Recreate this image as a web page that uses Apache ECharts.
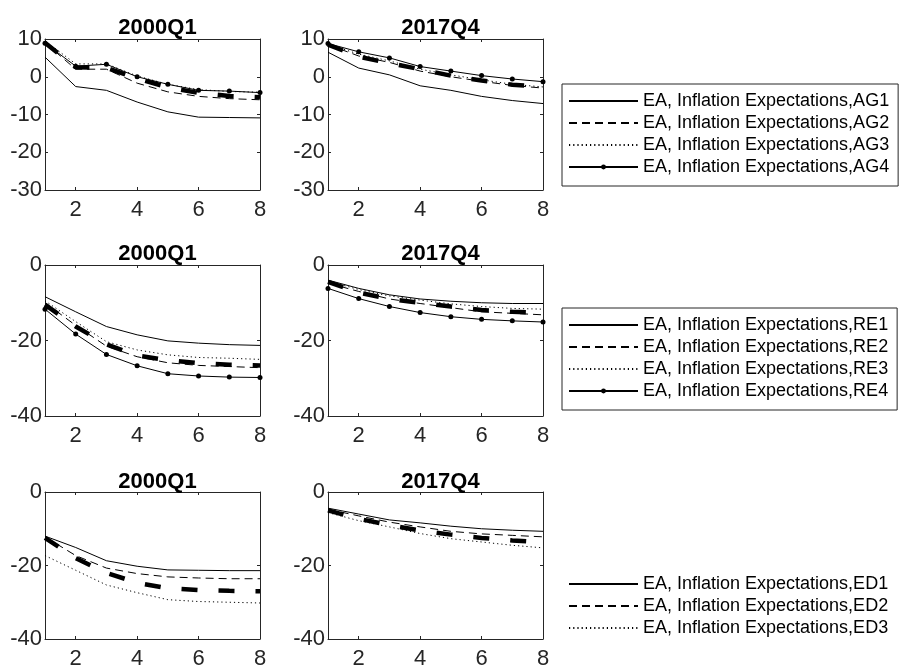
<!DOCTYPE html>
<html>
<head>
<meta charset="utf-8">
<script src="https://cdn.jsdelivr.net/npm/echarts@6/dist/echarts.min.js"></script>
<style>
  html, body { margin: 0; padding: 0; background: #fff; }
  #chart { width: 901px; height: 670px; }
</style>
</head>
<body>
<div id="chart"></div>
<script>
"use strict";
// horizons on the x axis and the labelled ticks
var horizons = [1, 2, 3, 4, 5, 6, 7, 8];
var xTicks = [2, 4, 6, 8];
var titles = ['2000Q1', '2017Q4'];

// AG, 2000Q1
var ag1_2000 = [5.2, -2.6, -3.6, -6.7, -9.3, -10.7, -10.8, -10.9];
var ag2_2000 = [9.0, 2.0, 2.0, -1.7, -4.0, -5.2, -5.8, -6.1];
var ag3_2000 = [9.5, 3.4, 3.4, 0.2, -2.0, -3.4, -3.9, -4.1];
var ag4_2000 = [8.9, 2.8, 3.3, 0.0, -2.0, -3.6, -3.8, -4.2];
var agThick_2000 = [9.0, 2.5, 2.4, -0.5, -2.8, -4.3, -5.1, -5.4];
// AG, 2017Q4
var ag1_2017 = [6.5, 2.3, 0.5, -2.4, -3.6, -5.2, -6.3, -7.1];
var ag2_2017 = [8.5, 5.5, 3.8, 1.5, 0.0, -1.2, -2.3, -3.0];
var ag3_2017 = [8.6, 6.0, 4.2, 2.0, 0.5, -0.8, -2.0, -2.7];
var ag4_2017 = [8.8, 6.6, 5.0, 2.7, 1.5, 0.3, -0.6, -1.3];
var agThick_2017 = [8.5, 5.3, 3.6, 2.0, 0.3, -1.0, -2.1, -2.6];

// RE, 2000Q1
var re1_2000 = [-8.4, -12.4, -16.3, -18.5, -20.1, -20.7, -21.1, -21.3];
var re2_2000 = [-10.0, -16.0, -21.5, -24.3, -25.9, -26.6, -26.9, -27.2];
var re3_2000 = [-9.5, -15.0, -20.3, -22.5, -23.8, -24.5, -24.7, -25.0];
var re4_2000 = [-11.7, -18.3, -23.7, -26.7, -28.8, -29.4, -29.7, -29.8];
var reThick_2000 = [-10.5, -16.3, -21.0, -24.0, -25.2, -26.0, -26.4, -26.6];
// RE, 2017Q4
var re1_2017 = [-4.0, -6.2, -7.9, -9.0, -9.6, -10.0, -10.2, -10.2];
var re2_2017 = [-4.8, -7.0, -9.0, -10.2, -11.3, -12.4, -12.8, -13.2];
var re3_2017 = [-4.3, -6.5, -8.2, -9.3, -10.3, -11.0, -11.5, -11.7];
var re4_2017 = [-6.2, -8.9, -11.0, -12.6, -13.7, -14.4, -14.8, -15.1];
var reThick_2017 = [-4.5, -7.3, -9.0, -10.0, -11.0, -11.9, -12.4, -12.7];

// ED, 2000Q1
var ed1_2000 = [-12.0, -15.1, -18.7, -20.2, -21.2, -21.3, -21.4, -21.4];
var ed2_2000 = [-12.2, -17.3, -20.7, -22.2, -23.1, -23.4, -23.6, -23.6];
var ed3_2000 = [-17.3, -21.3, -25.3, -27.4, -29.3, -29.8, -30.0, -30.2];
var edThick_2000 = [-12.5, -18.0, -22.0, -24.7, -26.2, -26.7, -26.9, -27.0];
// ED, 2017Q4
var ed1_2017 = [-4.4, -6.0, -7.6, -8.4, -9.3, -10.0, -10.4, -10.7];
var ed2_2017 = [-4.7, -6.5, -8.2, -9.5, -10.7, -11.4, -11.8, -12.2];
var ed3_2017 = [-5.6, -7.8, -9.5, -11.3, -12.7, -13.6, -14.5, -15.2];
var edThick_2017 = [-5.0, -7.3, -9.0, -10.5, -11.6, -12.5, -13.2, -13.7];

// series names (legend entries)
var agNames = ['EA, Inflation Expectations,AG1', 'EA, Inflation Expectations,AG2',
               'EA, Inflation Expectations,AG3', 'EA, Inflation Expectations,AG4'];
var reNames = ['EA, Inflation Expectations,RE1', 'EA, Inflation Expectations,RE2',
               'EA, Inflation Expectations,RE3', 'EA, Inflation Expectations,RE4'];
var edNames = ['EA, Inflation Expectations,ED1', 'EA, Inflation Expectations,ED2',
               'EA, Inflation Expectations,ED3'];

// y axis ranges per row
var yMin = [-30, -40, -40];
var yMax = [10, 0, 0];
var yStep = [10, 20, 20];

var FONT = 'Liberation Sans, Arial, Helvetica, sans-serif';
var AX = '#262626';

// panel layout
var colLeft = [45, 328];
var rowTop = [39, 265, 492];
var plotW = 215, plotH = 151;
var titleTop = [12, 238, 466];

// panels: row, col, lines, heavy dashed line
var panels = [
  { row: 0, col: 0, names: agNames, lines: [ag1_2000, ag2_2000, ag3_2000, ag4_2000], thick: agThick_2000 },
  { row: 0, col: 1, names: agNames, lines: [ag1_2017, ag2_2017, ag3_2017, ag4_2017], thick: agThick_2017 },
  { row: 1, col: 0, names: reNames, lines: [re1_2000, re2_2000, re3_2000, re4_2000], thick: reThick_2000 },
  { row: 1, col: 1, names: reNames, lines: [re1_2017, re2_2017, re3_2017, re4_2017], thick: reThick_2017 },
  { row: 2, col: 0, names: edNames, lines: [ed1_2000, ed2_2000, ed3_2000], thick: edThick_2000 },
  { row: 2, col: 1, names: edNames, lines: [ed1_2017, ed2_2017, ed3_2017], thick: edThick_2017 }
];

// line style for the n-th series of a panel
var styles = [
  { type: 'solid', symbol: 'none' },
  { type: [8, 5], symbol: 'none' },
  { type: [1.2, 3], symbol: 'none' },
  { type: 'solid', symbol: 'circle' }
];

function toPoints(vals) {
  var pts = [];
  for (var i = 0; i < horizons.length; i++) {
    pts.push([horizons[i], vals[i]]);
  }
  return pts;
}

var grids = [], xAxes = [], yAxes = [], series = [], titleList = [];

for (var p = 0; p < panels.length; p++) {
  var pn = panels[p];
  grids.push({ left: colLeft[pn.col], top: rowTop[pn.row], width: plotW, height: plotH, containLabel: false });
  titleList.push({
    text: titles[pn.col],
    left: colLeft[pn.col] + plotW / 2,
    top: titleTop[pn.row],
    textAlign: 'center',
    textStyle: { fontFamily: FONT, fontSize: 22, fontWeight: 'bold', color: '#000' }
  });

  // bottom / top x axes
  var posX = ['bottom', 'top'];
  for (var k = 0; k < 2; k++) {
    xAxes.push({
      type: 'value', gridIndex: p, position: posX[k], min: 1, max: 8,
      axisLine: { show: true, onZero: false, lineStyle: { color: AX, width: 1 } },
      axisTick: { show: true, inside: true, length: 3, customValues: xTicks, lineStyle: { color: AX } },
      axisLabel: { show: k === 0, customValues: xTicks, margin: 9, color: AX, fontSize: 22, fontFamily: FONT },
      splitLine: { show: false }
    });
  }
  // left / right y axes
  var posY = ['left', 'right'];
  for (var k2 = 0; k2 < 2; k2++) {
    yAxes.push({
      type: 'value', gridIndex: p, position: posY[k2],
      min: yMin[pn.row], max: yMax[pn.row], interval: yStep[pn.row],
      axisLine: { show: true, onZero: false, lineStyle: { color: AX, width: 1 } },
      axisTick: { show: true, inside: true, length: 3, lineStyle: { color: AX } },
      axisLabel: { show: k2 === 0, margin: 3, color: AX, fontSize: 22, fontFamily: FONT },
      splitLine: { show: false }
    });
  }

  for (var s = 0; s < pn.lines.length; s++) {
    series.push({
      name: pn.names[s],
      type: 'line',
      xAxisIndex: p * 2,
      yAxisIndex: p * 2,
      data: toPoints(pn.lines[s]),
      symbol: styles[s].symbol,
      symbolSize: 5,
      showSymbol: styles[s].symbol !== 'none',
      silent: true,
      itemStyle: { color: '#000' },
      lineStyle: { color: '#000', width: 1, type: styles[s].type }
    });
  }
  // heavy dashed line, no legend entry
  series.push({
    name: 'thick' + p,
    type: 'line',
    xAxisIndex: p * 2,
    yAxisIndex: p * 2,
    data: toPoints(pn.thick),
    symbol: 'none',
    silent: true,
    lineStyle: { color: '#000', width: 4.5, type: [16, 21] }
  });
}

function legendData(names) {
  var out = [];
  for (var i = 0; i < names.length; i++) {
    var item = { name: names[i] };
    if (i !== 3) item.itemStyle = { opacity: 0 };
    out.push(item);
  }
  return out;
}

function legendBox(names, top, border) {
  return {
    data: legendData(names),
    orient: 'vertical',
    left: 562,
    top: top,
    itemWidth: 69,
    itemHeight: 6,
    itemGap: 4,
    padding: [8, 9, 10, 6],
    borderColor: border ? AX : 'transparent',
    borderWidth: border ? 1 : 0,
    selectedMode: false,
    textStyle: { fontFamily: FONT, fontSize: 18, color: '#000' }
  };
}

var myChart = echarts.init(document.getElementById('chart'), null, { renderer: 'canvas' });
var option = {
  backgroundColor: '#fff',
  animation: false,
  title: titleList,
  grid: grids,
  xAxis: xAxes,
  yAxis: yAxes,
  legend: [
    legendBox(agNames, 84, true),
    legendBox(reNames, 308, true),
    legendBox(edNames, 567, false)
  ],
  series: series
};
myChart.setOption(option);
</script>
</body>
</html>
